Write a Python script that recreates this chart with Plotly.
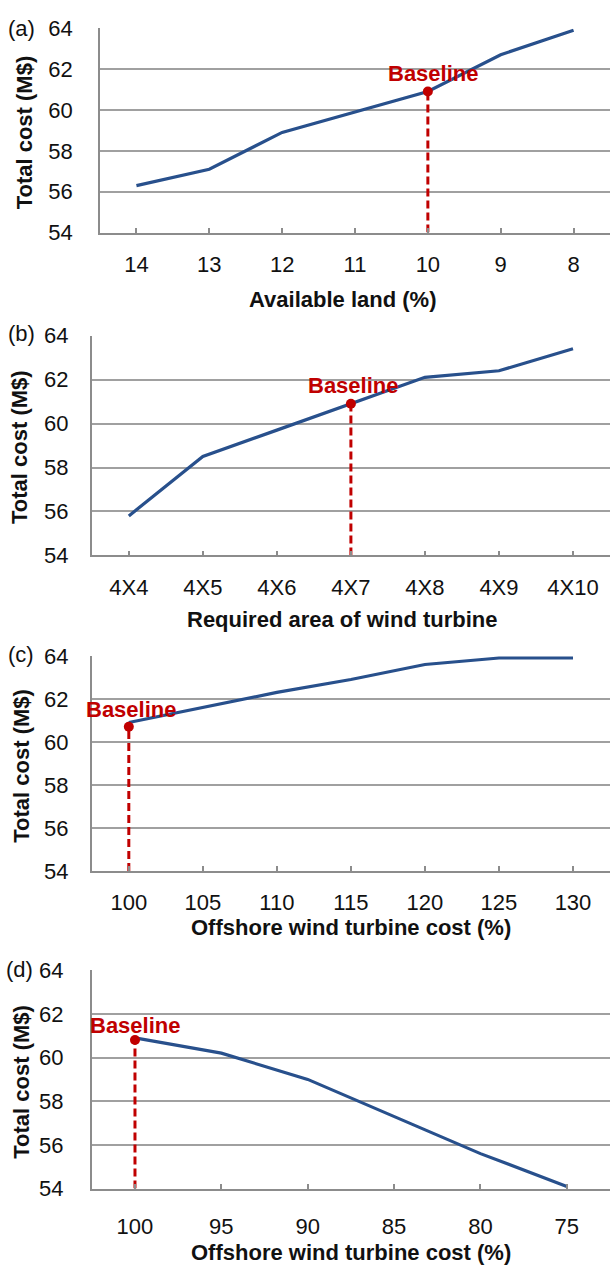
import plotly.graph_objects as go

W, H = 610, 1280

# ---------------- data ----------------
land_cats = ["14", "13", "12", "11", "10", "9", "8"]
land_cost = [56.3, 57.1, 58.9, 59.9, 60.9, 62.7, 63.9]
land_base_cat, land_base_val = "10", 60.9

area_cats = ["4X4", "4X5", "4X6", "4X7", "4X8", "4X9", "4X10"]
area_cost = [55.8, 58.5, 59.7, 60.9, 62.1, 62.4, 63.4]
area_base_cat, area_base_val = "4X7", 60.9

up_cats = ["100", "105", "110", "115", "120", "125", "130"]
up_cost = [60.9, 61.6, 62.3, 62.9, 63.6, 63.9, 63.9]
up_base_cat, up_base_val = "100", 60.7

down_cats = ["100", "95", "90", "85", "80", "75"]
down_cost = [60.9, 60.2, 59.0, 57.3, 55.6, 54.1]
down_base_cat, down_base_val = "100", 60.8

y_ticks = [54, 56, 58, 60, 62, 64]
panel_labels = ["(a)", "(b)", "(c)", "(d)"]
x_titles = ["Available land (%)", "Required area of wind turbine",
            "Offshore wind turbine cost (%)", "Offshore wind turbine cost (%)"]
y_title = "Total cost (M$)"
base_text = "Baseline"

# ---------------- styling ----------------
FONT = "Liberation Sans, Arial, sans-serif"
LINE_C = "#28508c"
RED = "#c00000"
GRID_C = "#a0a0a0"
AXIS_C = "#8c8c8c"

panels = [
    dict(cats=land_cats, vals=land_cost, bc=land_base_cat, bv=land_base_val,
         x0=100, top=16.5, bot=225.0, lab=(21, 16.7), base_xy=(433.8, 62.7),
         ytitle_x=24, xt_y=293.3, xt_x=342.4, tick_y=251.7, ystand=21),
    dict(cats=area_cats, vals=area_cost, bc=area_base_cat, bv=area_base_val,
         x0=91.8, top=330.0, bot=554.3, lab=(21, 327.5), base_xy=(353.4, 381.0),
         ytitle_x=19.5, xt_y=620.0, xt_x=342.0, tick_y=581.7, ystand=17),
    dict(cats=up_cats, vals=up_cost, bc=up_base_cat, bv=up_base_val,
         x0=91.8, top=656.7, bot=876.0, lab=(21.4, 655.0), base_xy=(131.7, 711.0),
         ytitle_x=21.4, xt_y=933.3, xt_x=351.0, tick_y=902.7, ystand=17),
    dict(cats=down_cats, vals=down_cost, bc=down_base_cat, bv=down_base_val,
         x0=91.8, top=977.3, bot=1200.0, lab=(19.5, 976.7), base_xy=(135.0, 1033.3),
         ytitle_x=21.4, xt_y=1265.0, xt_x=351.0, tick_y=1233.3, ystand=22),
]

fig = go.Figure()
annotations = []
layout_axes = {}

def px_x(p):
    return p / W

def px_y(p):
    return 1 - p / H

for i, p in enumerate(panels):
    n = i + 1
    xa = "x" if n == 1 else f"x{n}"
    ya = "y" if n == 1 else f"y{n}"
    xkey = "xaxis" if n == 1 else f"xaxis{n}"
    ykey = "yaxis" if n == 1 else f"yaxis{n}"

    fig.add_trace(go.Scatter(x=p["cats"], y=p["vals"], mode="lines",
                             line=dict(color=LINE_C, width=3.2),
                             xaxis=xa, yaxis=ya, showlegend=False,
                             hoverinfo="skip"))
    fig.add_trace(go.Scatter(x=[p["bc"], p["bc"]], y=[y_ticks[0], p["bv"]],
                             mode="lines",
                             line=dict(color=RED, width=3, dash="8px,4px"),
                             xaxis=xa, yaxis=ya, showlegend=False,
                             hoverinfo="skip"))
    fig.add_trace(go.Scatter(x=[p["bc"]], y=[p["bv"]], mode="markers",
                             marker=dict(color=RED, size=10),
                             xaxis=xa, yaxis=ya, showlegend=False,
                             hoverinfo="skip"))

    ncat = len(p["cats"])
    t_stand = int(round(max(0, p["tick_y"] - p["bot"] - 16)))
    layout_axes[xkey] = dict(
        domain=[px_x(p["x0"]), 1.0], anchor=ya, type="category",
        categoryorder="array", categoryarray=p["cats"],
        range=[-0.5, ncat - 0.5],
        tickvals=p["cats"], ticktext=p["cats"],
        showline=True, linecolor=AXIS_C, linewidth=1.6,
        ticks="inside", ticklen=5, tickwidth=1.6, tickcolor=AXIS_C,
        showgrid=False, zeroline=False,
        tickfont=dict(family=FONT, size=22, color="#111111"),
        ticklabelstandoff=t_stand, fixedrange=True,
    )
    layout_axes[ykey] = dict(
        domain=[px_y(p["bot"]), px_y(p["top"])], anchor=xa,
        range=[54, 64], tickvals=y_ticks,
        ticktext=[str(v) for v in y_ticks],
        showline=True, linecolor=AXIS_C, linewidth=1.6,
        showgrid=True, gridcolor=GRID_C, gridwidth=1.6,
        zeroline=False, ticks="",
        tickfont=dict(family=FONT, size=22, color="#111111"),
        ticklabelstandoff=int(p["ystand"]), fixedrange=True,
    )

    annotations.append(dict(text=panel_labels[i], xref="paper", yref="paper",
                            x=px_x(p["lab"][0]), y=px_y(p["lab"][1]),
                            xanchor="center", yanchor="middle", showarrow=False,
                            font=dict(family=FONT, size=22, color="#111111")))
    annotations.append(dict(text=f"<b>{y_title}</b>", xref="paper", yref="paper",
                            x=px_x(p["ytitle_x"]), y=px_y((p["top"] + p["bot"]) / 2 + 2),
                            xanchor="center", yanchor="middle", showarrow=False,
                            textangle=-90,
                            font=dict(family=FONT, size=22, color="#111111")))
    annotations.append(dict(text=f"<b>{x_titles[i]}</b>", xref="paper", yref="paper",
                            x=px_x(p["xt_x"]), y=px_y(p["xt_y"]),
                            xanchor="center", yanchor="middle", showarrow=False,
                            font=dict(family=FONT, size=22, color="#111111")))
    annotations.append(dict(text=f"<b>{base_text}</b>", xref="paper", yref="paper",
                            x=px_x(p["base_xy"][0]), y=px_y(p["base_xy"][1]),
                            xanchor="center", yanchor="middle", showarrow=False,
                            font=dict(family=FONT, size=22, color=RED)))

fig.update_layout(
    width=W, height=H, autosize=False,
    margin=dict(l=0, r=0, t=0, b=0),
    paper_bgcolor="white", plot_bgcolor="white",
    annotations=annotations,
    showlegend=False,
    **layout_axes,
)

fig.write_html(
    "out.html",
    config=dict(displayModeBar=False),
    post_script="document.body.style.margin='0';document.body.style.overflow='hidden';",
)
